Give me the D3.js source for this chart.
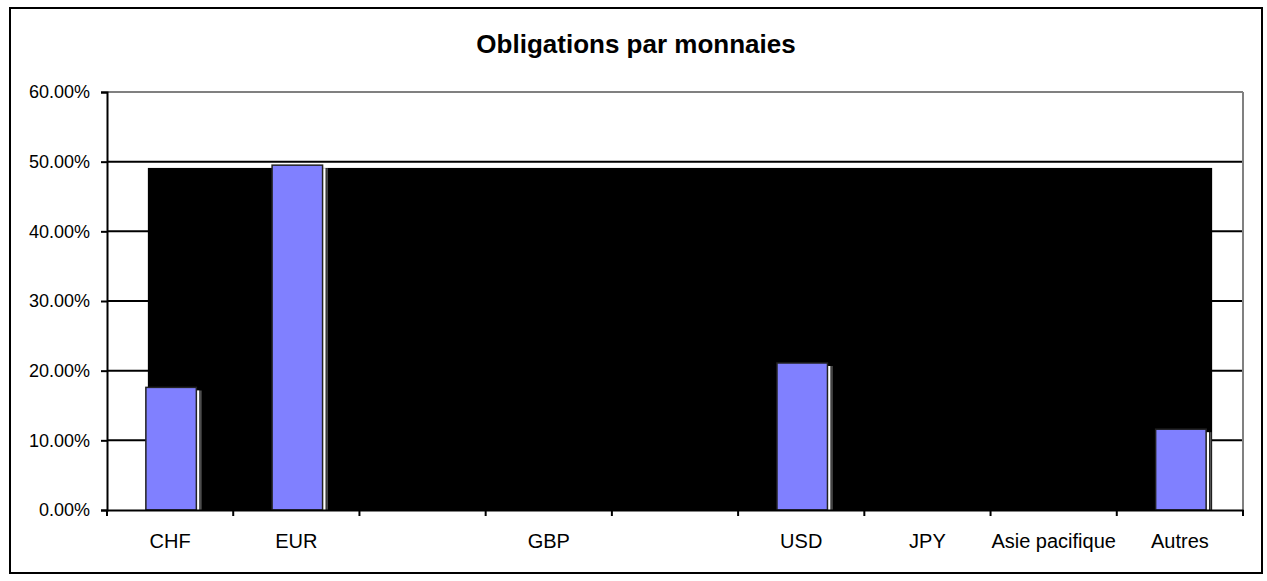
<!DOCTYPE html>
<html>
<head>
<meta charset="utf-8">
<script src="https://cdn.jsdelivr.net/npm/d3@7"></script>
<style>
  body { margin: 0; background: #fff; }
  text { font-family: "Liberation Sans", Arial, sans-serif; }
</style>
</head>
<body>
<svg id="chart"></svg>
<script>
var w = 1267,
    h = 581;

// chart data
var categories = ["CHF", "EUR", "", "GBP", "", "USD", "JPY", "Asie pacifique", "Autres"],
    values = [17.6, 49.5, null, null, null, 21.1, null, null, 11.6],
    yTicks = [0, 10, 20, 30, 40, 50, 60];

// the dark block drawn behind the bars in the original
var block = { value: 49.1, from: "CHF", to: "Autres" };

var margin = { left: 107, right: 24, top: 92, bottom: 71 };

var svg = d3.select("#chart")
    .attr("width", w)
    .attr("height", h);

// outer frame
svg.append("rect")
    .attr("x", 10)
    .attr("y", 8)
    .attr("width", 1252)
    .attr("height", 565)
    .attr("fill", "#fff")
    .attr("stroke", "#000")
    .attr("stroke-width", 2);

svg.append("text")
    .attr("x", 636)
    .attr("y", 53)
    .attr("text-anchor", "middle")
    .style("font-size", "26px")
    .style("font-weight", "bold")
    .text("Obligations par monnaies");

var x = d3.scaleBand()
    .domain(d3.range(categories.length))
    .range([margin.left, w - margin.right])
    .paddingInner(0)
    .paddingOuter(0);

var y = d3.scaleLinear()
    .domain([0, 60])
    .range([h - margin.bottom, margin.top]);

var barW = x.bandwidth() * 0.4;

// gridlines
svg.append("g")
    .selectAll("line")
    .data(yTicks.filter(function(d) { return d > 0; }))
    .enter().append("line")
    .attr("x1", margin.left)
    .attr("x2", w - margin.right)
    .attr("y1", function(d) { return y(d); })
    .attr("y2", function(d) { return y(d); })
    .attr("stroke", function(d) { return d === 60 ? "#808080" : "#000"; })
    .attr("stroke-width", 2);

// right border of plot area
svg.append("line")
    .attr("x1", w - margin.right)
    .attr("x2", w - margin.right)
    .attr("y1", y(60))
    .attr("y2", y(0))
    .attr("stroke", "#808080")
    .attr("stroke-width", 2);

// black block
var i0 = categories.indexOf(block.from),
    i1 = categories.indexOf(block.to),
    bl = x(i0) + x.bandwidth() / 2 - barW / 2 + 3,
    br = x(i1) + x.bandwidth() / 2 + barW / 2 + 7;
svg.append("rect")
    .attr("x", bl)
    .attr("y", y(block.value))
    .attr("width", br - bl)
    .attr("height", y(0) - y(block.value))
    .attr("fill", "#000");

// bars
var data = categories.map(function(c, i) { return { i: i, v: values[i] }; })
    .filter(function(d) { return d.v !== null; });

var bars = svg.append("g")
    .selectAll("g")
    .data(data)
    .enter().append("g");

function bx(d) { return x(d.i) + x.bandwidth() / 2 - barW / 2 + 1; }

// shadow
bars.append("rect")
    .attr("x", function(d) { return bx(d) + barW; })
    .attr("y", function(d) { return y(d.v) + 3; })
    .attr("width", 3)
    .attr("height", function(d) { return y(0) - y(d.v) - 3; })
    .attr("fill", "#fff");

bars.append("line")
    .attr("x1", function(d) { return bx(d) + barW + 4.5; })
    .attr("x2", function(d) { return bx(d) + barW + 4.5; })
    .attr("y1", function(d) { return y(d.v) + 3; })
    .attr("y2", y(0))
    .attr("stroke", "#555")
    .attr("stroke-width", 1.5);

bars.append("rect")
    .attr("x", bx)
    .attr("y", function(d) { return y(d.v); })
    .attr("width", barW)
    .attr("height", function(d) { return y(0) - y(d.v); })
    .attr("fill", "#8080ff")
    .attr("stroke", "#222")
    .attr("stroke-width", 1.5);

// y axis
var yAxis = svg.append("g")
    .attr("transform", "translate(" + margin.left + ",0)")
    .call(d3.axisLeft(y)
        .tickValues(yTicks)
        .tickSize(6)
        .tickFormat(function(d) { return d.toFixed(2) + "%"; }));

yAxis.select(".domain").attr("stroke", "#000").attr("stroke-width", 2);
yAxis.selectAll(".tick line").attr("stroke", "#000").attr("stroke-width", 2);
yAxis.selectAll(".tick text")
    .attr("x", -17)
    .attr("fill", "#000")
    .style("font-size", "18px")
    .style("font-family", "Liberation Sans, Arial, sans-serif");

// x axis
var xAxis = svg.append("g")
    .attr("transform", "translate(0," + y(0) + ")")
    .call(d3.axisBottom(x)
        .tickSize(0)
        .tickFormat(function(i) { return categories[i]; }));

xAxis.select(".domain").attr("stroke", "#000").attr("stroke-width", 2);
xAxis.selectAll(".tick text")
    .attr("y", 38)
    .attr("dy", 0)
    .attr("fill", "#000")
    .style("font-size", "20px")
    .style("font-family", "Liberation Sans, Arial, sans-serif");

// category separators
svg.append("g")
    .selectAll("line")
    .data(d3.range(categories.length + 1))
    .enter().append("line")
    .attr("x1", function(i) { return margin.left + i * x.step(); })
    .attr("x2", function(i) { return margin.left + i * x.step(); })
    .attr("y1", y(0))
    .attr("y2", y(0) + 6)
    .attr("stroke", "#000")
    .attr("stroke-width", 2);
</script>
</body>
</html>
